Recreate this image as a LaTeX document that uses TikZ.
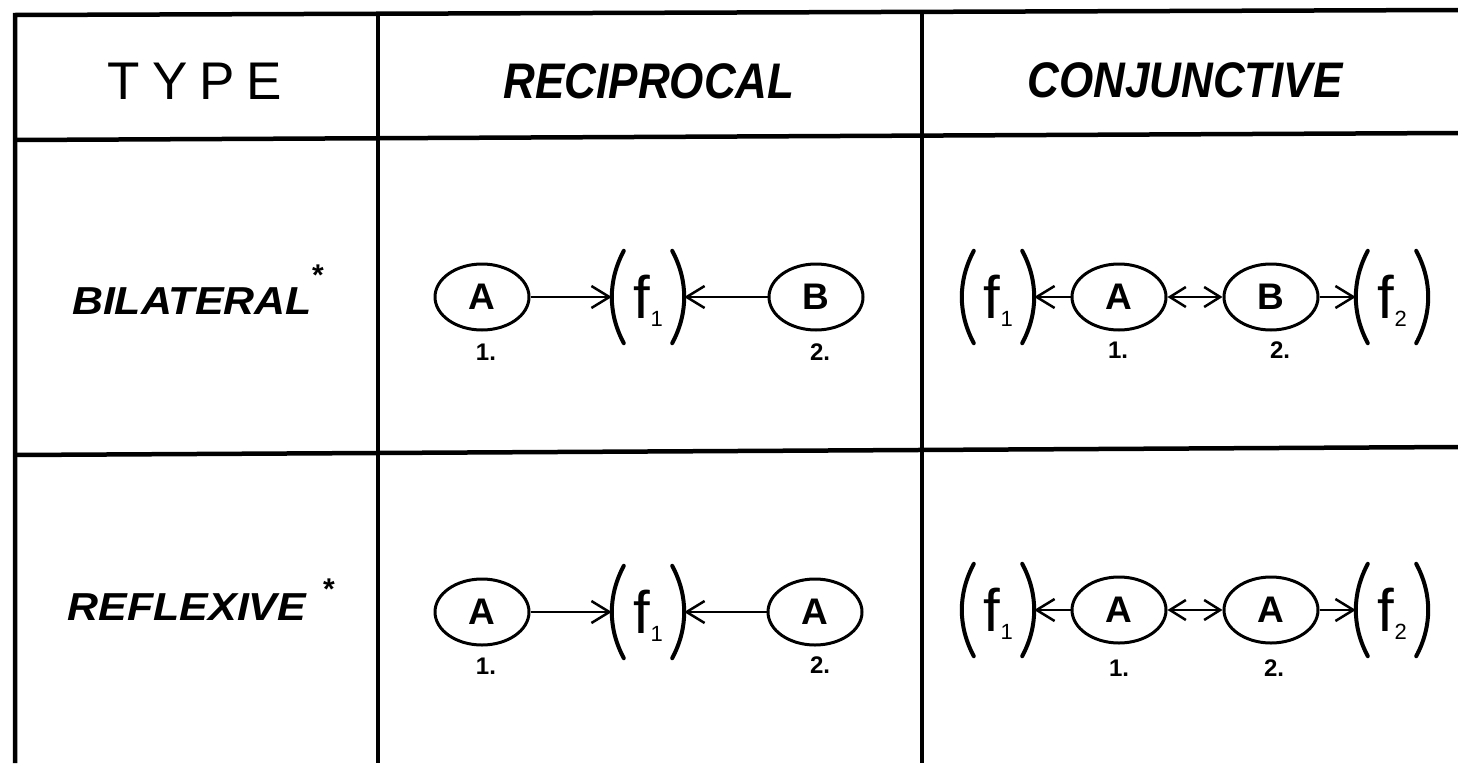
\documentclass[tikz,border=0pt]{standalone}
\usepackage{fontspec}
\setmainfont{Liberation Sans}
\newfontfamily\hdrfont{Liberation Sans}[FakeStretch=0.88]
\newfontfamily\rowfont{Liberation Sans}[FakeStretch=1.1]
\usetikzlibrary{arrows.meta,shapes.geometric}
\newcommand\drawparens[1]{%
  \draw[paren] ([xshift=12pt]#1.north west) .. controls ([xshift=-4pt,yshift=-30pt]#1.north west) and ([xshift=-4pt,yshift=30pt]#1.south west) .. ([xshift=12pt]#1.south west);
  \draw[paren] ([xshift=-12pt]#1.north east) .. controls ([xshift=4pt,yshift=-30pt]#1.north east) and ([xshift=4pt,yshift=30pt]#1.south east) .. ([xshift=-12pt]#1.south east);}
\newcommand\fsub[1]{f\kern1pt\raisebox{-8pt}{\fontsize{22}{22}\selectfont #1}}
\begin{document}
\begin{tikzpicture}[x=1pt,y=-1pt,
  grid/.style={line width=4.5pt},
  hdr/.style={font=\hdrfont\fontsize{50}{54}\selectfont\bfseries\itshape, inner sep=0pt},
  rowhdr/.style={font=\rowfont\fontsize{39}{42}\selectfont\bfseries\itshape, inner sep=0pt},
  typehdr/.style={font=\fontsize{53}{56}\selectfont, inner sep=0pt},
  star/.style={font=\fontsize{30}{30}\selectfont\bfseries, inner sep=0pt},
  ent/.style={draw, ellipse, line width=3pt, minimum width=94pt, minimum height=66pt, inner sep=0pt, font=\fontsize{37}{40}\selectfont\bfseries},
  fn/.style={minimum width=72pt, minimum height=92pt, inner sep=0pt, text depth=0pt, font=\fontsize{60}{62}\selectfont},
  num/.style={font=\fontsize{24}{26}\selectfont\bfseries, inner sep=0pt},
  arr/.style={line width=2.5pt, -{Straight Barb[length=18pt,width=22pt]}},
  darr/.style={line width=2.5pt, {Straight Barb[length=16pt,width=20pt]}-{Straight Barb[length=16pt,width=20pt]}},
  paren/.style={line width=4pt, line cap=round},
]
\useasboundingbox (0,0) rectangle (1458,763);

% table rules
\draw[grid] (15,763) -- (15,15) -- (1458,10);
\draw[grid] (15,140) -- (1458,133);
\draw[grid] (15,455) -- (1458,447);
\draw[grid] (378,13) -- (378,763);
\draw[grid] (922,12) -- (922,763);

% headers
\node[typehdr] (type) at (195,81) {T\hspace{12pt}Y\hspace{12pt}P\hspace{12pt}E};
\node[hdr] (recip) at (649,81) {RECIPROCAL};
\node[hdr] (conj) at (1185,80) {CONJUNCTIVE};
\node[rowhdr] (bil) at (192,301) {BILATERAL};
\node[star] (bilstar) at (318,275) {*};
\node[rowhdr] (refl) at (187,607) {REFLEXIVE};
\node[star] (reflstar) at (329,589) {*};

% row 1 reciprocal
\node[ent] (ra1) at (482,297) {A};
\node[fn] (rf1) at (648,297) {\fsub{1}};
\node[ent] (rb1) at (816,297) {B};
\drawparens{rf1}
\draw[arr] (ra1) -- (rf1);
\draw[arr] (rb1) -- (rf1);
\node[num] (rn1) at (486,352) {1.};
\node[num] (rn2) at (820,352) {2.};

% row 1 conjunctive
\node[fn] (cf1) at (998,297) {\fsub{1}};
\node[ent] (ca1) at (1119,297) {A};
\node[ent] (cb1) at (1271,297) {B};
\node[fn] (cf2) at (1392,297) {\fsub{2}};
\drawparens{cf1}
\drawparens{cf2}
\draw[arr] (ca1) -- (cf1);
\draw[darr] (ca1) -- (cb1);
\draw[arr] (cb1) -- (cf2);
\node[num] (cn1) at (1118,350) {1.};
\node[num] (cn2) at (1280,350) {2.};

% row 2 reciprocal
\node[ent] (ra2) at (482,612) {A};
\node[fn] (rf2) at (648,612) {\fsub{1}};
\node[ent] (rb2) at (815,612) {A};
\drawparens{rf2}
\draw[arr] (ra2) -- (rf2);
\draw[arr] (rb2) -- (rf2);
\node[num] (rm1) at (486,666) {1.};
\node[num] (rm2) at (820,665) {2.};

% row 2 conjunctive
\node[fn] (df1) at (998,610) {\fsub{1}};
\node[ent] (da1) at (1119,610) {A};
\node[ent] (db1) at (1271,610) {A};
\node[fn] (df2) at (1392,610) {\fsub{2}};
\drawparens{df1}
\drawparens{df2}
\draw[arr] (da1) -- (df1);
\draw[darr] (da1) -- (db1);
\draw[arr] (db1) -- (df2);
\node[num] (dn1) at (1119,668) {1.};
\node[num] (dn2) at (1274,668) {2.};
\end{tikzpicture}
\end{document}
